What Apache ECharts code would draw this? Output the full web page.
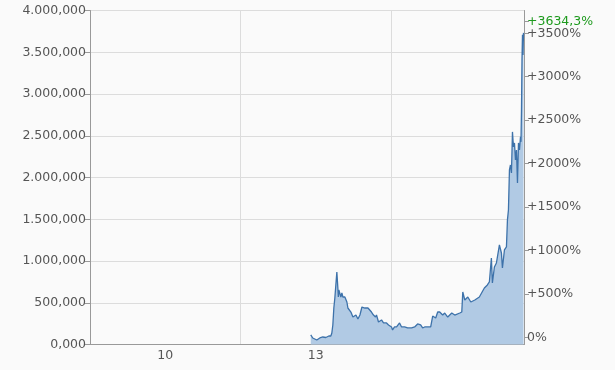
<!DOCTYPE html>
<html>
<head>
<meta charset="utf-8">
<script src="https://cdn.jsdelivr.net/npm/echarts@6/dist/echarts.min.js"></script>
<style>
html,body{margin:0;padding:0;background:#fafafa;}
#c{width:615px;height:370px;}
</style>
</head>
<body>
<div id="c"></div>
<script>
// Dates as decimal years
const dates = [2013.40,2013.44,2013.52,2013.58,2013.64,2013.70,2013.76,2013.80,2013.82,2013.84,2013.86,2013.88,2013.90,2013.92,2013.94,2013.95,2013.96,2014.00,2014.02,2014.04,2014.08,2014.12,2014.14,2014.16,2014.20,2014.24,2014.26,2014.30,2014.34,2014.38,2014.42,2014.44,2014.48,2014.54,2014.61,2014.65,2014.69,2014.71,2014.75,2014.81,2014.85,2014.91,2014.95,2015.01,2015.03,2015.07,2015.11,2015.17,2015.21,2015.27,2015.33,2015.41,2015.47,2015.53,2015.59,2015.63,2015.67,2015.73,2015.79,2015.83,2015.89,2015.93,2015.97,2016.03,2016.07,2016.13,2016.21,2016.27,2016.37,2016.41,2016.43,2016.47,2016.53,2016.59,2016.67,2016.76,2016.86,2016.92,2016.96,2017.00,2017.02,2017.06,2017.10,2017.16,2017.20,2017.22,2017.26,2017.30,2017.32,2017.34,2017.36,2017.38,2017.40,2017.42,2017.44,2017.46,2017.48,2017.50,2017.52,2017.54,2017.56,2017.58,2017.59,2017.60,2017.61,2017.62,2017.63,2017.64];
const prices = [114,78,54,78,90,84,102,102,138,234,437,557,713,869,677,569,653,569,617,569,569,509,437,449,389,329,317,353,305,353,449,449,437,437,389,353,329,353,270,294,258,258,234,210,174,210,210,258,210,210,198,198,210,246,234,198,210,210,210,341,317,389,389,353,377,329,377,353,377,389,629,533,569,509,533,569,677,713,749,1036,737,928,976,1192,1096,916,1132,1168,1492,1611,2091,2150,2055,2546,2366,2414,2210,2330,1935,2414,2330,2486,2426,2809,3408,3708,3468,3732];
const xLabelValues = [2010.5, 2013.5];
const xGridValues = [2012, 2015];
const pctTicks = [0,500,1000,1500,2000,2500,3000,3500];
const lastPct = [3634.3];

function deFmt(v){
  const s = v.toFixed(3).split('.');
  const int = s[0].replace(/\B(?=(\d{3})+(?!\d))/g,'.');
  return int + ',' + s[1];
}

const chart = echarts.init(document.getElementById('c'), null, {renderer:'canvas'});
const FONT = 'DejaVu Sans';
const FS = 12.5;
chart.setOption({
  backgroundColor:'#fafafa',
  animation:false,
  grid:{left:90,right:91,top:10.5,bottom:25.5,containLabel:false,outerBoundsMode:'none'},
  xAxis:{
    type:'value',min:2009,max:2017.65,
    axisLine:{show:true,lineStyle:{color:'#999',width:1}},
    axisTick:{show:false,customValues:xGridValues},
    splitLine:{show:true,lineStyle:{color:'#dcdcdc',width:1}},
    axisLabel:{customValues:xLabelValues,margin:5,color:'#555',fontFamily:FONT,fontSize:FS,
      formatter:v=>String(Math.floor(v)).slice(2)}
  },
  yAxis:[{
    type:'value',min:0,max:4000,interval:500,position:'left',
    axisLine:{show:true,lineStyle:{color:'#999'}},
    axisTick:{show:true,length:5,lineStyle:{color:'#999'}},
    splitLine:{show:true,lineStyle:{color:'#dcdcdc'}},
    axisLabel:{margin:4,color:'#555',fontFamily:FONT,fontSize:FS,formatter:deFmt}
  },{
    type:'value',min:-83,max:3762,position:'right',
    axisLine:{show:true,lineStyle:{color:'#999'}},
    axisTick:{show:true,length:5,customValues:pctTicks,lineStyle:{color:'#999'}},
    splitLine:{show:false},
    axisLabel:{customValues:pctTicks,margin:3,color:'#555',fontFamily:FONT,fontSize:FS,hideOverlap:false,
      formatter:v=> v===0 ? '0%' : '+' + v + '%'}
  },{
    type:'value',min:-83,max:3762,position:'right',
    axisLine:{show:false},
    axisTick:{show:true,length:5,customValues:lastPct,lineStyle:{color:'#999'}},
    splitLine:{show:false},
    axisLabel:{customValues:lastPct,margin:3,color:'#1e9a1e',fontFamily:FONT,fontSize:FS,hideOverlap:false,
      showMaxLabel:true,
      formatter:v=>'+' + String(v).replace('.',',') + '%'}
  }],
  series:[{
    type:'line',
    yAxisIndex:0,
    data:dates.map((d,i)=>[d,prices[i]]),
    showSymbol:false,
    lineStyle:{color:'#3d72aa',width:1.3},
    areaStyle:{color:'#b1cae4',opacity:1},
    z:3
  }]
});
</script>
</body>
</html>
